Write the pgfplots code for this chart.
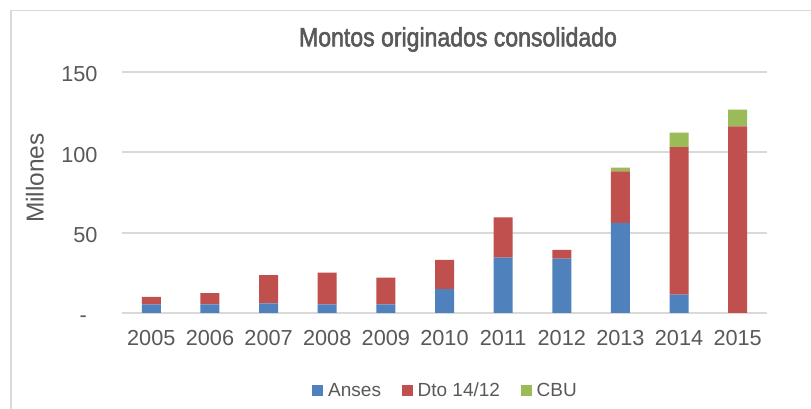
\documentclass[border=0pt]{standalone}
\usepackage{pgfplots}
\pgfplotsset{compat=1.18}
\usepackage{pgfplotstable}
\usepackage{fontspec}
\setmainfont{Liberation Sans}
\newfontfamily\titlefont[FakeStretch=0.87,FakeBold=2]{Liberation Sans}
\definecolor{cA}{HTML}{4F81BD}
\definecolor{cD}{HTML}{C0504D}
\definecolor{cC}{HTML}{9BBB59}
\definecolor{gridc}{HTML}{D9D9D9}
\definecolor{txt}{HTML}{595959}
\pgfplotstableread{
x A D C
0 5.4 4.6 0
1 5.4 6.9 0
2 6.0 17.5 0
3 5.4 19.7 0
4 5.4 16.6 0
5 14.8 18.2 0
6 34.5 25.0 0
7 33.9 5.4 0
8 56.1 32.1 2.3
9 11.4 91.8 9.0
10 0 116.1 10.5
}\datatab
\pgfplotsset{sqleg/.style={legend image code/.code={\fill[##1,draw=none] (0bp,-5.5bp) rectangle (11bp,5.5bp);}}}
\begin{document}
\begin{tikzpicture}
\useasboundingbox (0,0) rectangle (811bp,409bp);
\fill[white] (0,0) rectangle (811bp,409bp);
\draw[gridc, line width=1.8bp] (11bp,0) -- (11bp,398.5bp) -- (811bp,398.5bp);
\begin{axis}[
  at={(122bp,96bp)}, anchor=south west,
  scale only axis, width=645bp, height=241bp,
  ybar stacked, bar width=19bp,
  xmin=-0.5, xmax=10.5, ymin=0, ymax=150,
  xtick={0,1,2,3,4,5,6,7,8,9,10},
  xticklabels={2005,2006,2007,2008,2009,2010,2011,2012,2013,2014,2015},
  ytick={0,50,100,150}, yticklabels={{-\hspace*{10.7bp}},50,100,150},
  ymajorgrids, major grid style={gridc, line width=2bp},
  axis line style={draw=none}, major tick length=0pt,
  tick label style={font=\fontsize{21.7bp}{26bp}\selectfont, text=txt, inner sep=0pt},
  xticklabel style={anchor=base, yshift=-32.7bp},
  yticklabel style={anchor=base east, xshift=-24.3bp, yshift=-9.8bp},
  title={Montos originados consolidado},
  title style={at={(axis description cs:0.5,1)}, anchor=base, xshift=13.5bp, yshift=19.7bp,
    font=\titlefont\fontsize{26.5bp}{30bp}\selectfont, text=txt},
  ylabel={Millones},
  ylabel style={at={(axis description cs:-0.1349,0.56)}, anchor=center,
    font=\fontsize{24.5bp}{28bp}\selectfont, text=txt},
  legend style={at={(axis description cs:0.5,-0.3216)}, anchor=center, draw=none, fill=none,
    legend columns=3, font=\fontsize{19bp}{22bp}\selectfont, text=txt,
    nodes={inner sep=0pt},
    /tikz/every odd column/.append style={column sep=5bp},
    /tikz/every even column/.append style={column sep=20.6bp}},
]
\addplot[fill=cA, draw=none, sqleg] table[x=x, y=A] {\datatab};
\addplot[fill=cD, draw=none, sqleg] table[x=x, y=D] {\datatab};
\addplot[fill=cC, draw=none, sqleg] table[x=x, y=C] {\datatab};
\legend{Anses, Dto 14/12, CBU}
\end{axis}
\end{tikzpicture}
\end{document}
